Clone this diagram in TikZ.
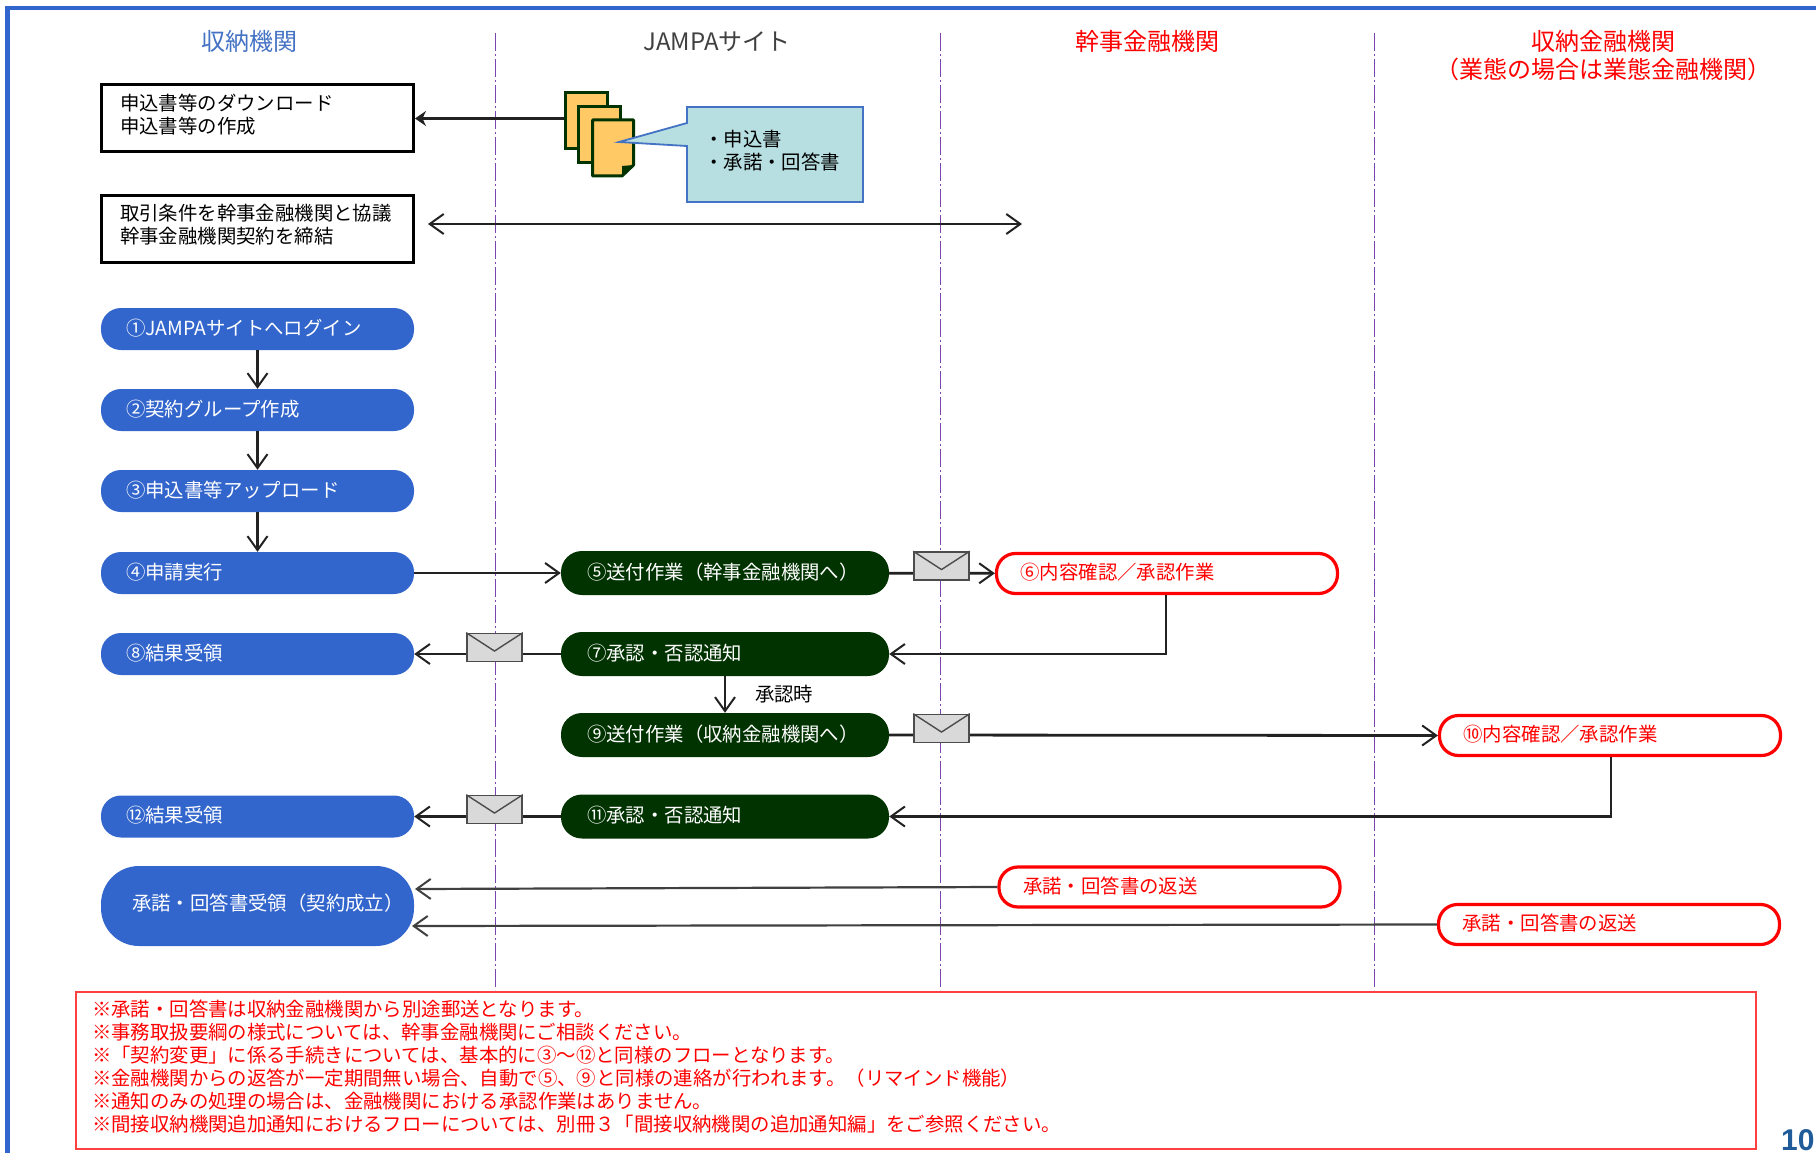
\documentclass[tikz,border=0pt]{standalone}
\usepackage{fontspec}
\setmainfont{Noto Sans CJK JP}
\newfontfamily\numfont{Liberation Sans}
\usetikzlibrary{arrows.meta,calc}
\definecolor{frameblue}{HTML}{3366CC}
\definecolor{headblue}{HTML}{4472C4}
\definecolor{darkgreen}{HTML}{003300}
\definecolor{lanecol}{HTML}{7B45B0}
\definecolor{linecol}{HTML}{222222}
\definecolor{notered}{HTML}{FF4040}
\definecolor{sheetfill}{HTML}{FFC966}
\definecolor{callfill}{HTML}{B7DEE0}
\definecolor{envfill}{HTML}{D9D9D9}
\definecolor{pagecol}{HTML}{1F5C99}
\tikzset{
  x=1pt,y=-1pt,
  every node/.style={font=\fontsize{19.4}{23}\selectfont},
  head/.style={font=\fontsize{24}{28}\selectfont,align=center},
  lane/.style={draw=lanecol,line width=1.5pt,dash pattern=on 18pt off 3pt on 2pt off 3pt},
  conn/.style={draw=linecol,line width=2.8pt},
  thinconn/.style={draw=black!75,line width=2.2pt},
  tip/.style={-{Straight Barb[length=14pt,width=20pt,line width=2pt]}},
  bothtip/.style={{Straight Barb[length=14pt,width=20pt,line width=2pt]}-{Straight Barb[length=14pt,width=20pt,line width=2pt]}},
  bluepill/.style={fill=frameblue,text=white,minimum width=313pt,minimum height=42pt,text width=263pt,inner xsep=0pt,rounded corners=20pt,align=left},
  greenpill/.style={fill=darkgreen,text=white,minimum width=328pt,minimum height=44pt,text width=276pt,inner xsep=0pt,rounded corners=21pt,align=left},
  redpill/.style={draw=red,line width=3.2pt,fill=white,text=red,minimum width=341pt,minimum height=40pt,text width=293pt,inner xsep=0pt,rounded corners=19pt,align=left},
  blackbox/.style={draw=black,line width=3pt,fill=white,minimum width=312pt,minimum height=67pt,text width=275pt,inner xsep=0pt,inner ysep=0pt,align=left},
  envelope/.style={draw=black!70,line width=1.6pt,fill=envfill,minimum width=55pt,minimum height=28pt,inner sep=0pt},
  sheet/.style={draw=darkgreen,line width=3pt,fill=sheetfill,minimum width=42pt,minimum height=56pt,inner sep=0pt},
}
\newcommand{\envflap}[1]{\draw[black!70,line width=1.4pt] (#1.north west) -- ($(#1.north)!0.62!(#1.south)$) -- (#1.north east);}
\newcommand{\up}[1]{\raisebox{4pt}{#1}}
\newcommand{\boxlines}[2]{\raisebox{-1pt}[0pt][0pt]{\parbox{275pt}{\raggedright #1\\#2}}}
\begin{document}
\begin{tikzpicture}
\useasboundingbox (0,0) rectangle (1816,1153);
\fill[white] (0,0) rectangle (1816,1153);
% frame
\coordinate (fa) at (7.5,1153); \coordinate (fb) at (7.5,8); \coordinate (fc) at (1816,8);
\draw[frameblue,line width=4.5pt,line join=miter] (fa) -- (fb) -- (fc);
% lanes
\foreach \n/\x in {a/495.5,b/940.5,c/1374.5}{
  \coordinate (lane\n t) at (\x,33); \coordinate (lane\n b) at (\x,990);
  \draw[lane] (lane\n t) -- (lane\n b);
}
% headers
\node[head,text=headblue] (h1) at (249,41.5) {収納機関};
\node[head,text=black!75] (h2) at (717,41.5) {JAMPAサイト};
\node[head,text=red] (h3) at (1147,41.5) {幹事金融機関};
\node[head,text=red] (h4) at (1603,56) {収納金融機関\\（業態の場合は業態金融機関）};
% boxes
\node[blackbox] (b1) at (257.5,118.5) {\boxlines{申込書等のダウンロード}{申込書等の作成}};
\node[blackbox] (b2) at (257.5,229) {\boxlines{取引条件を幹事金融機関と協議}{幹事金融機関契約を締結}};
% documents
\node[sheet] (s1) at (586,121) {};
\node[sheet] (s2) at (599.5,135) {};
\coordinate (s3a) at (592.5,120); \coordinate (s3b) at (633.5,120); \coordinate (s3c) at (633.5,165);
\coordinate (s3d) at (622,176); \coordinate (s3e) at (592.5,176); \coordinate (s3f) at (622,166);
\draw[darkgreen,line width=3pt,fill=sheetfill,line join=round] (s3a) -- (s3b) -- (s3c) -- (s3d) -- (s3e) -- cycle;
\fill[darkgreen] (s3c) -- (s3f) -- (s3d) -- cycle;
\draw[conn,line width=3.4pt,-{Stealth[length=11pt,width=15pt]}] (s1.west |- b1.east) -- (b1.east);
% callout
\coordinate (ca) at (687,107); \coordinate (cb) at (863,107); \coordinate (cc) at (863,202); \coordinate (cd) at (687,202);
\coordinate (ce) at (687,146); \coordinate (cf) at (619,142); \coordinate (cg) at (687,123);
\draw[headblue,line width=1.8pt,fill=callfill] (ca) -- (cb) -- (cc) -- (cd) -- (ce) -- (cf) -- (cg) -- cycle;
\node[anchor=west,align=left,inner sep=0pt] (callt) at (704,151) {・申込書\\・承諾・回答書};
% two way arrow
\coordinate (ta) at (428,224); \coordinate (tb) at (1022,224);
\draw[conn,bothtip,line width=2pt] (ta) -- (tb);
% nodes
\node[bluepill] (p1) at (257.5,329) {\up{①JAMPAサイトへログイン}};
\node[bluepill] (p2) at (257.5,410) {\up{②契約グループ作成}};
\node[bluepill] (p3) at (257.5,491) {\up{③申込書等アップロード}};
\node[bluepill] (p4) at (257.5,573) {\up{④申請実行}};
\node[bluepill] (p8) at (257.5,654) {\up{⑧結果受領}};
\node[bluepill] (p12) at (257.5,816.5) {\up{⑫結果受領}};
\node[greenpill] (d5) at (725,573) {\up{⑤送付作業（幹事金融機関へ）}};
\node[greenpill] (d7) at (725,654) {\up{⑦承認・否認通知}};
\node[greenpill] (d9) at (725,735) {\up{⑨送付作業（収納金融機関へ）}};
\node[greenpill] (d11) at (725,816.5) {\up{⑪承認・否認通知}};
\node[redpill] (r6) at (1167,573.5) {\up{⑥内容確認／承認作業}};
\node[redpill] (r10) at (1610,735.5) {\up{⑩内容確認／承認作業}};
\node[redpill] (r1) at (1169.5,887) {\up{承諾・回答書の返送}};
\node[redpill] (r2) at (1609,924.5) {\up{承諾・回答書の返送}};
\node[fill=frameblue,text=white,minimum width=313pt,minimum height=80pt,text width=251pt,inner xsep=0pt,rounded corners=38pt,align=left] (big) at (257.5,906) {\raisebox{7pt}{承諾・回答書受領（契約成立）}};
% vertical arrows
\draw[conn,tip,line width=2.4pt] (p1) -- (p2);
\draw[conn,tip,line width=2.4pt] (p2) -- (p3);
\draw[conn,tip,line width=2.4pt] (p3) -- (p4);
\draw[conn,tip,line width=2.2pt] (d7) -- (d9) node[midway,right=29pt,text=black,inner sep=0pt] (lab) {承認時};
% horizontal arrows
\draw[conn,tip] (p4) -- (d5);
\draw[conn,tip] (d5) -- (r6);
\draw[conn,tip] (d7) -- (p8);
\draw[conn,tip] (d9.east) -- (r10.west);
\draw[conn,tip] (d11) -- (p12);
\coordinate (c6) at (1166,654);
\draw[conn,tip] (c6 |- r6.south) -- (c6) -- (d7.east);
\coordinate (c10) at (1611,816.5);
\draw[conn,tip] (c10 |- r10.south) -- (c10) -- (d11.east);
\coordinate (bigA) at (415,889); \coordinate (bigB) at (412,926);
\draw[thinconn,tip] (r1.west) -- (bigA);
\draw[thinconn,tip] (r2.west) -- (bigB);
% envelopes
\node[envelope] (e5) at (941.5,566) {}; \envflap{e5}
\node[envelope] (e7) at (494.5,647.5) {}; \envflap{e7}
\node[envelope] (e9) at (941.5,728.5) {}; \envflap{e9}
\node[envelope] (e11) at (494.5,809.5) {}; \envflap{e11}
% notes
\node[draw=notered,line width=2pt,text=red,anchor=north west,minimum width=1680pt,minimum height=157pt,text width=1648pt,inner xsep=16pt,align=left,fill=white] (notes) at (75,991) {※承諾・回答書は収納金融機関から別途郵送となります。\\
※事務取扱要綱の様式については、幹事金融機関にご相談ください。\\
※「契約変更」に係る手続きについては、基本的に③～⑫と同様のフローとなります。\\
※金融機関からの返答が一定期間無い場合、自動で⑤、⑨と同様の連絡が行われます。（リマインド機能）\\
※通知のみの処理の場合は、金融機関における承認作業はありません。\\
※間接収納機関追加通知におけるフローについては、別冊３「間接収納機関の追加通知編」をご参照ください。\par\vspace{8pt}};
% page number
\node[anchor=west,inner sep=0pt,text=pagecol,font=\numfont\bfseries\fontsize{30}{30}\selectfont] (pg) at (1781,1140) {10};
\end{tikzpicture}
\end{document}
